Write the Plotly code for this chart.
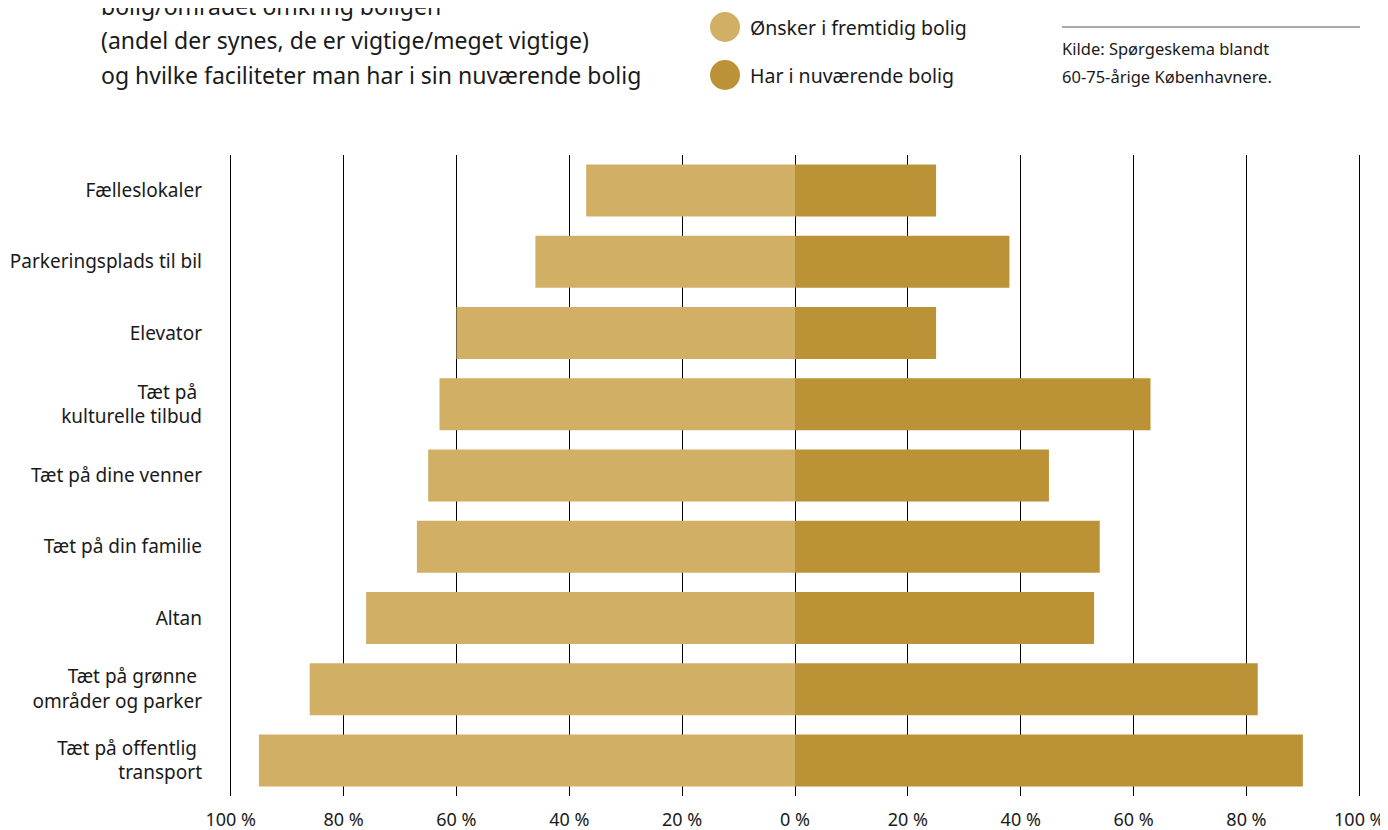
import plotly.graph_objects as go

categories = [
    "Fælleslokaler",
    "Parkeringsplads til bil",
    "Elevator",
    "Tæt på\u00a0<br>kulturelle tilbud",
    "Tæt på dine venner",
    "Tæt på din familie",
    "Altan",
    "Tæt på grønne\u00a0<br>områder og parker",
    "Tæt på offentlig\u00a0<br>transport",
]
wish_future = [37, 46, 60, 63, 65, 67, 76, 86, 95]
have_now = [25, 38, 25, 63, 45, 54, 53, 82, 90]

tick_vals = [-100, -80, -60, -40, -20, 0, 20, 40, 60, 80, 100]
tick_text = ["100 %", "80 %", "60 %", "40 %", "20 %", "0 %", "20 %", "40 %", "60 %", "80 %", "100 %"]

title_lines = [
    "bolig/området omkring boligen",
    "(andel der synes, de er vigtige/meget vigtige)",
    "og hvilke faciliteter man har i sin nuværende bolig",
]
legend_names = ["Ønsker i fremtidig bolig", "Har i nuværende bolig"]
source_lines = ["Kilde: Spørgeskema blandt", "60-75-årige Københavnere."]

light = "#D1AF65"
dark = "#BB9236"
txt = "#1a1a1a"
FONT = "Noto Sans"

# plot area in screen pixels (range padded a bit so the 100 % gridlines show)
PAD = 0.3
L, R, T, B = 229, 1361, 155, 796
OFF = 8  # page body margin shifts the figure


def px(x):
    return (x - L) / (R - L)


def py(y):
    return (B - y) / (B - T)


fig = go.Figure()
fig.add_trace(go.Bar(
    y=categories, x=[-v for v in wish_future], orientation="h",
    name=legend_names[0], marker_color=light, marker_line_width=0,
    customdata=wish_future, hovertemplate="%{y}: %{customdata} %<extra></extra>",
))
fig.add_trace(go.Bar(
    y=categories, x=have_now, orientation="h",
    name=legend_names[1], marker_color=dark, marker_line_width=0,
    hovertemplate="%{y}: %{x} %<extra></extra>",
))

fig.update_layout(
    width=1388, height=830,
    margin=dict(l=L - OFF, r=1388 - (R - OFF), t=T - OFF, b=830 - (B - OFF),
                autoexpand=False),
    barmode="relative", bargap=0.27,
    plot_bgcolor="white", paper_bgcolor="white",
    showlegend=False,
    font=dict(family=FONT, size=17, color=txt),
)
fig.update_xaxes(
    range=[-100 - PAD, 100 + PAD], tickvals=tick_vals, ticktext=tick_text,
    showgrid=True, gridcolor="black", gridwidth=1,
    zeroline=True, zerolinecolor="black", zerolinewidth=1,
    showline=False, ticks="", ticklabelstandoff=11, automargin=False,
    tickfont=dict(size=18, color=txt), fixedrange=True,
)
fig.update_yaxes(
    autorange="reversed", showgrid=False, showline=False, ticks="",
    ticklabelstandoff=26, automargin=False,
    tickfont=dict(size=19, color=txt),
)

# title (top line cut off by page edge)
for i, line in enumerate(title_lines):
    fig.add_annotation(
        text=line, xref="paper", yref="paper", x=px(99), y=py(6 + i * 34.5),
        xanchor="left", yanchor="middle", showarrow=False,
        font=dict(size=23, color=txt),
    )

# custom legend
for i, (name, col) in enumerate(zip(legend_names, [light, dark])):
    cy = 27 + i * 48
    fig.add_shape(
        type="circle", xref="paper", yref="paper",
        x0=px(710), x1=px(740), y0=py(cy + 15), y1=py(cy - 15),
        fillcolor=col, line_width=0,
    )
    fig.add_annotation(
        text=name, xref="paper", yref="paper", x=px(748), y=py(cy),
        xanchor="left", yanchor="middle", showarrow=False,
        font=dict(size=19.5, color=txt),
    )

# source
fig.add_shape(
    type="line", xref="paper", yref="paper",
    x0=px(1062), x1=px(1360), y0=py(27), y1=py(27),
    line=dict(color="#555555", width=1),
)
for i, line in enumerate(source_lines):
    fig.add_annotation(
        text=line, xref="paper", yref="paper", x=px(1060), y=py(49 + i * 27),
        xanchor="left", yanchor="middle", showarrow=False,
        font=dict(size=16.5, color=txt),
    )

fig.write_html("out.html")
